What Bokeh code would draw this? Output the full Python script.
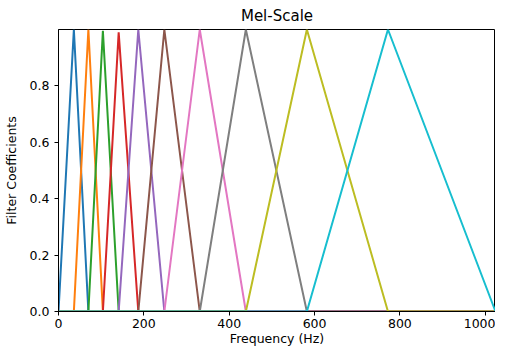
from bokeh.plotting import figure
from bokeh.models import Range1d, FixedTicker, CustomJSTickFormatter
from bokeh.embed import file_html
from bokeh.resources import INLINE

# Filter edge frequencies (Hz): filter i spans edges[i] .. edges[i+2], peak at edges[i+1]
edges = [0, 36, 70, 104, 141, 187, 248, 331, 439, 582, 772, 1024]
peaks = [1.0, 1.0, 0.995, 0.99, 1.0, 1.0, 1.0, 1.0, 1.0, 1.0]
colors = ["#1f77b4", "#ff7f0e", "#2ca02c", "#d62728", "#9467bd",
          "#8c564b", "#e377c2", "#7f7f7f", "#bcbd22", "#17becf"]
x_min, x_max = 0, 1024
x_ticks = [0, 200, 400, 600, 800, 1000]
y_ticks = [0.0, 0.2, 0.4, 0.6, 0.8]

FONT = "DejaVu Sans"

p = figure(width=495, height=348, output_backend="svg", toolbar_location=None,
           x_range=Range1d(x_min, x_max), y_range=Range1d(0, 1.0),
           min_border_left=54, min_border_right=0, min_border_top=0,
           min_border_bottom=0, title="Mel-Scale")

for i in range(len(peaks)):
    lo, c, hi = edges[i], edges[i + 1], edges[i + 2]
    xs = [x_min, lo, c, hi, x_max]
    ys = [0, 0, peaks[i], 0, 0]
    p.line(xs, ys, line_color=colors[i], line_width=2)

p.title.align = "center"
p.title.text_font = FONT
p.title.text_font_size = "15px"
p.title.text_font_style = "normal"
p.title.text_color = "#000000"
p.title.standoff = 9

p.xgrid.visible = False
p.ygrid.visible = False
p.outline_line_color = "#000000"
p.outline_line_width = 1
p.outline_line_alpha = 1

p.xaxis.ticker = FixedTicker(ticks=x_ticks)
p.yaxis.ticker = FixedTicker(ticks=y_ticks)
p.yaxis.formatter = CustomJSTickFormatter(code="return tick.toFixed(1);")

for ax in (p.xaxis[0], p.yaxis[0]):
    ax.axis_line_color = "#000000"
    ax.major_tick_line_color = "#000000"
    ax.major_tick_out = 4
    ax.major_tick_in = 0
    ax.minor_tick_out = 0
    ax.minor_tick_in = 0
    ax.major_label_text_font = FONT
    ax.major_label_text_font_size = "12.5px"
    ax.major_label_text_color = "#000000"
    ax.major_label_text_line_height = 1.0
    ax.axis_label_text_font = FONT
    ax.axis_label_text_font_size = "12.5px"
    ax.axis_label_text_font_style = "normal"
    ax.axis_label_text_color = "#000000"
    ax.axis_label_text_line_height = 1.0

p.xaxis.axis_label = "Frequency (Hz)"
p.yaxis.axis_label = "Filter Coefficients"
p.xaxis.major_label_standoff = 3
p.xaxis.axis_label_standoff = 0
p.yaxis.major_label_standoff = 5
p.yaxis.axis_label_standoff = 8

open("out.html", "w").write(file_html(p, INLINE))
